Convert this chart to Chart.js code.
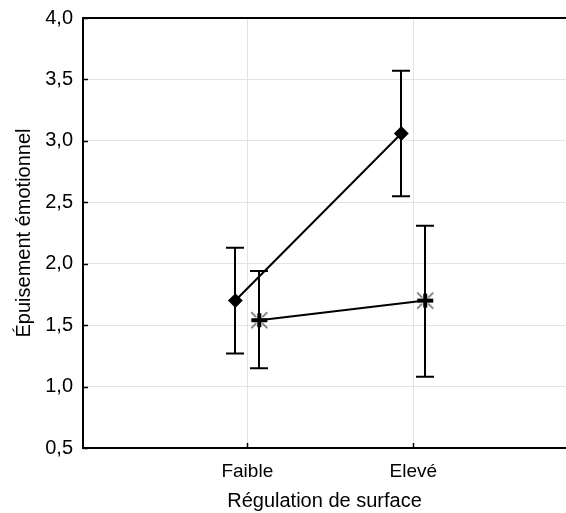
<!DOCTYPE html>
<html>
<head>
<meta charset="utf-8">
<script src="https://cdn.jsdelivr.net/npm/chart.js@4"></script>
<style>
html,body{margin:0;padding:0;background:#fff;}
#wrap{width:566px;height:513px;}
</style>
</head>
<body>
<div id="wrap"><canvas id="c" width="566" height="513"></canvas></div>
<script>
const categories = ['Faible', 'Elevé'];
const highMeans = [1.70, 3.06];
const highLow = [1.27, 2.55];
const highUp = [2.13, 3.57];
const lowMeans = [1.54, 1.70];
const lowLow = [1.15, 1.08];
const lowUp = [1.94, 2.31];
const yTicks = [0.5, 1.0, 1.5, 2.0, 2.5, 3.0, 3.5, 4.0];

const OFF = 0.072;
function pts(means, off) { return means.map((v, i) => ({ x: i + 1 + off, y: v })); }

// asterisk marker
const star = document.createElement('canvas');
star.width = 22; star.height = 22;
(function () {
  const g = star.getContext('2d');
  g.strokeStyle = '#444'; g.lineWidth = 1.2;
  g.beginPath();
  g.moveTo(3, 3); g.lineTo(8, 8); g.moveTo(19, 3); g.lineTo(14, 8);
  g.moveTo(3, 19); g.lineTo(8, 14); g.moveTo(19, 19); g.lineTo(14, 14);
  g.stroke();
  g.strokeStyle = '#000'; g.lineWidth = 4;
  g.beginPath();
  g.moveTo(3, 11); g.lineTo(19, 11); g.moveTo(11, 4); g.lineTo(11, 18);
  g.stroke();
})();

const errData = [
  { off: -OFF, low: highLow, up: highUp },
  { off: OFF, low: lowLow, up: lowUp }
];

const framePlugin = {
  id: 'frame',
  beforeDatasetsDraw(chart) {
    const { ctx, scales: { x, y } } = chart;
    ctx.save();
    ctx.strokeStyle = '#000';
    ctx.lineWidth = 2;
    errData.forEach(s => {
      s.low.forEach((lo, i) => {
        const px = Math.round(x.getPixelForValue(i + 1 + s.off));
        const y1 = y.getPixelForValue(lo), y2 = y.getPixelForValue(s.up[i]);
        ctx.beginPath();
        ctx.moveTo(px, y1); ctx.lineTo(px, y2);
        ctx.moveTo(px - 9, y1); ctx.lineTo(px + 9, y1);
        ctx.moveTo(px - 9, y2); ctx.lineTo(px + 9, y2);
        ctx.stroke();
      });
    });
    ctx.restore();
  },
  afterDraw(chart) {
    const { ctx, chartArea: a, scales: { x, y } } = chart;
    ctx.save();
    ctx.strokeStyle = '#000';
    ctx.lineWidth = 2;
    ctx.beginPath();
    ctx.moveTo(a.left, a.top - 1); ctx.lineTo(a.left, a.bottom + 1);
    ctx.moveTo(a.left - 1, a.top); ctx.lineTo(566, a.top);
    ctx.moveTo(a.left - 1, a.bottom); ctx.lineTo(566, a.bottom);
    ctx.stroke();
    ctx.lineWidth = 1.5;
    ctx.beginPath();
    yTicks.forEach(v => {
      const py = Math.round(y.getPixelForValue(v)) + 0.5;
      ctx.moveTo(a.left, py); ctx.lineTo(a.left + 5, py);
    });
    categories.forEach((c, i) => {
      const px = Math.round(x.getPixelForValue(i + 1)) + 0.5;
      ctx.moveTo(px, a.bottom); ctx.lineTo(px, a.bottom - 5);
    });
    ctx.stroke();
    ctx.restore();
  }
};

new Chart(document.getElementById('c'), {
  type: 'line',
  data: {
    datasets: [
      {
        data: pts(highMeans, -OFF),
        borderColor: '#000', borderWidth: 2,
        pointStyle: 'rectRot', pointRadius: 6,
        pointBackgroundColor: '#000', pointBorderColor: '#000',
        tension: 0
      },
      {
        data: pts(lowMeans, OFF),
        borderColor: '#000', borderWidth: 2,
        pointStyle: star, pointRadius: 11,
        tension: 0
      }
    ]
  },
  options: {
    responsive: false,
    animation: false,
    devicePixelRatio: 1,
    layout: { autoPadding: false, padding: { top: 18, right: 0, left: 0, bottom: 0 } },
    plugins: { legend: { display: false }, tooltip: { enabled: false } },
    scales: {
      x: {
        type: 'linear',
        min: 0.01, max: 2.92,
        afterBuildTicks(s) { s.ticks = categories.map((c, i) => ({ value: i + 1 })); },
        afterFit(s) { s.height = 65; s.paddingLeft = 0; s.paddingRight = 0; },
        ticks: {
          callback: (v) => categories[v - 1],
          color: '#000', font: { family: 'Liberation Sans', size: 19 },
          padding: 12, maxRotation: 0, autoSkip: false
        },
        grid: { color: '#e3e3e3', lineWidth: 1, drawTicks: false },
        border: { display: false },
        title: {
          display: true, text: 'Régulation de surface',
          color: '#000', font: { family: 'Liberation Sans', size: 20 },
          padding: { top: 6, bottom: 0 }
        }
      },
      y: {
        min: 0.5, max: 4.0,
        afterBuildTicks(s) { s.ticks = yTicks.map(v => ({ value: v })); },
        afterFit(s) { s.width = 83; s.paddingTop = 0; s.paddingBottom = 0; },
        ticks: {
          callback: (v) => v.toFixed(1).replace('.', ','),
          color: '#000', font: { family: 'Liberation Sans', size: 20 },
          padding: 10, autoSkip: false
        },
        grid: { color: '#e3e3e3', lineWidth: 1, drawTicks: false },
        border: { display: false },
        title: {
          display: true, text: 'Épuisement émotionnel',
          color: '#000', font: { family: 'Liberation Sans', size: 20 },
          padding: { top: 12, bottom: 0 }
        }
      }
    }
  },
  plugins: [framePlugin]
});
</script>
</body>
</html>
